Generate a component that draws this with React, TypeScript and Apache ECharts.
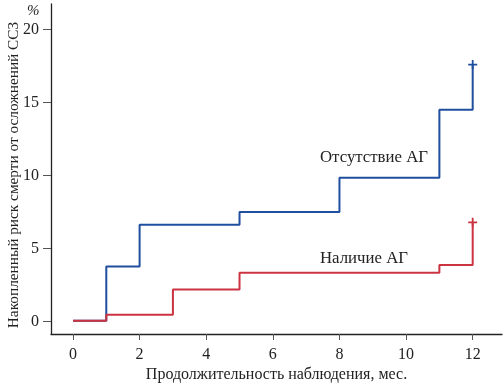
import React, { useEffect, useRef } from "react";
import * as echarts from "echarts";

const months = [0, 1, 2, 3, 4, 5, 6, 7, 8, 9, 10, 11, 12];
const xTicks = [0, 2, 4, 6, 8, 10, 12];
const yTicks = [0, 5, 10, 15, 20];
const noAgX = [0, 1, 2, 5, 8, 11, 12];
const noAgY = [0, 3.72, 6.58, 7.45, 9.8, 14.45, 17.55];
const agX = [0, 1, 3, 5, 11, 12];
const agY = [0, 0.41, 2.14, 3.3, 3.83, 6.75];
const labelNoAg = "Отсутствие АГ";
const labelAg = "Наличие АГ";
const yTitle = "Накопленный риск смерти от осложнений ССЗ";
const xTitle = "Продолжительность наблюдения, мес.";

const FONT = "Liberation Serif";
const BLUE = "#1f4f9e";
const RED = "#cc3340";
const PLUS = "path://M3.2,0H4.8V3.2H8V4.8H4.8V8H3.2V4.8H0V3.2H3.2Z";

function buildData(xs: number[], ys: number[]) {
  return xs.map((x, i) =>
    i === xs.length - 1
      ? { value: [x, ys[i]], symbol: PLUS, symbolSize: 9 }
      : { value: [x, ys[i]], symbol: "none" }
  );
}

export default function App() {
  const ref = useRef<HTMLDivElement>(null);
  useEffect(() => {
    if (!ref.current) return;
    const chart = echarts.init(ref.current, undefined, { renderer: "svg" });
    chart.setOption({
      animation: false,
      textStyle: { fontFamily: FONT },
      grid: { left: 51, right: 2, top: 4, bottom: 49, containLabel: false, outerBoundsMode: "none" },
      xAxis: {
        type: "value",
        min: -0.66,
        max: 12.88,
        interval: 0.02,
        name: xTitle,
        nameLocation: "middle",
        nameGap: 30,
        nameTextStyle: { fontFamily: FONT, fontSize: 16, color: "#222" },
        axisLine: { show: true, onZero: false, lineStyle: { color: "#222", width: 1.3 } },
        axisTick: { show: true, length: 6, customValues: xTicks, lineStyle: { color: "#555" } },
        axisLabel: { customValues: xTicks, margin: 11, fontFamily: FONT, fontSize: 16, color: "#222" },
        splitLine: { show: false },
      },
      yAxis: {
        type: "value",
        min: -0.9,
        max: 21.7,
        interval: 0.1,
        axisLine: { show: true, onZero: false, lineStyle: { color: "#222", width: 1.3 } },
        axisTick: { show: true, length: 8, customValues: yTicks, lineStyle: { color: "#555" } },
        axisLabel: { customValues: yTicks, margin: 12, fontFamily: FONT, fontSize: 16, color: "#222" },
        splitLine: { show: false },
      },
      series: [
        {
          name: labelAg,
          type: "line",
          step: "end",
          data: buildData(agX, agY),
          lineStyle: { color: RED, width: 2 },
          itemStyle: { color: RED },
          z: 3,
        },
        {
          name: labelNoAg,
          type: "line",
          step: "end",
          data: buildData(noAgX, noAgY),
          lineStyle: { color: BLUE, width: 2 },
          itemStyle: { color: BLUE },
          z: 2,
        },
      ],
      graphic: [
        {
          type: "text",
          x: 12,
          y: 175,
          rotation: Math.PI / 2,
          style: {
            text: yTitle,
            fontFamily: FONT,
            fontSize: 15.3,
            fill: "#222",
            align: "center",
            verticalAlign: "middle",
          },
        },
        {
          type: "text",
          left: 320,
          top: 148,
          style: { text: labelNoAg, fontFamily: FONT, fontSize: 16.8, fill: "#222" },
        },
        {
          type: "text",
          left: 320,
          top: 249,
          style: { text: labelAg, fontFamily: FONT, fontSize: 16.8, fill: "#222" },
        },
        {
          type: "text",
          left: 27,
          top: 2,
          style: { text: "%", fontFamily: FONT, fontSize: 15, fontStyle: "italic", fill: "#222" },
        },
      ],
    });
    return () => chart.dispose();
  }, []);
  return (
    <div
      ref={ref}
      style={{ position: "fixed", left: 0, top: 0, width: 504, height: 383 }}
      data-months={months.length}
    />
  );
}
